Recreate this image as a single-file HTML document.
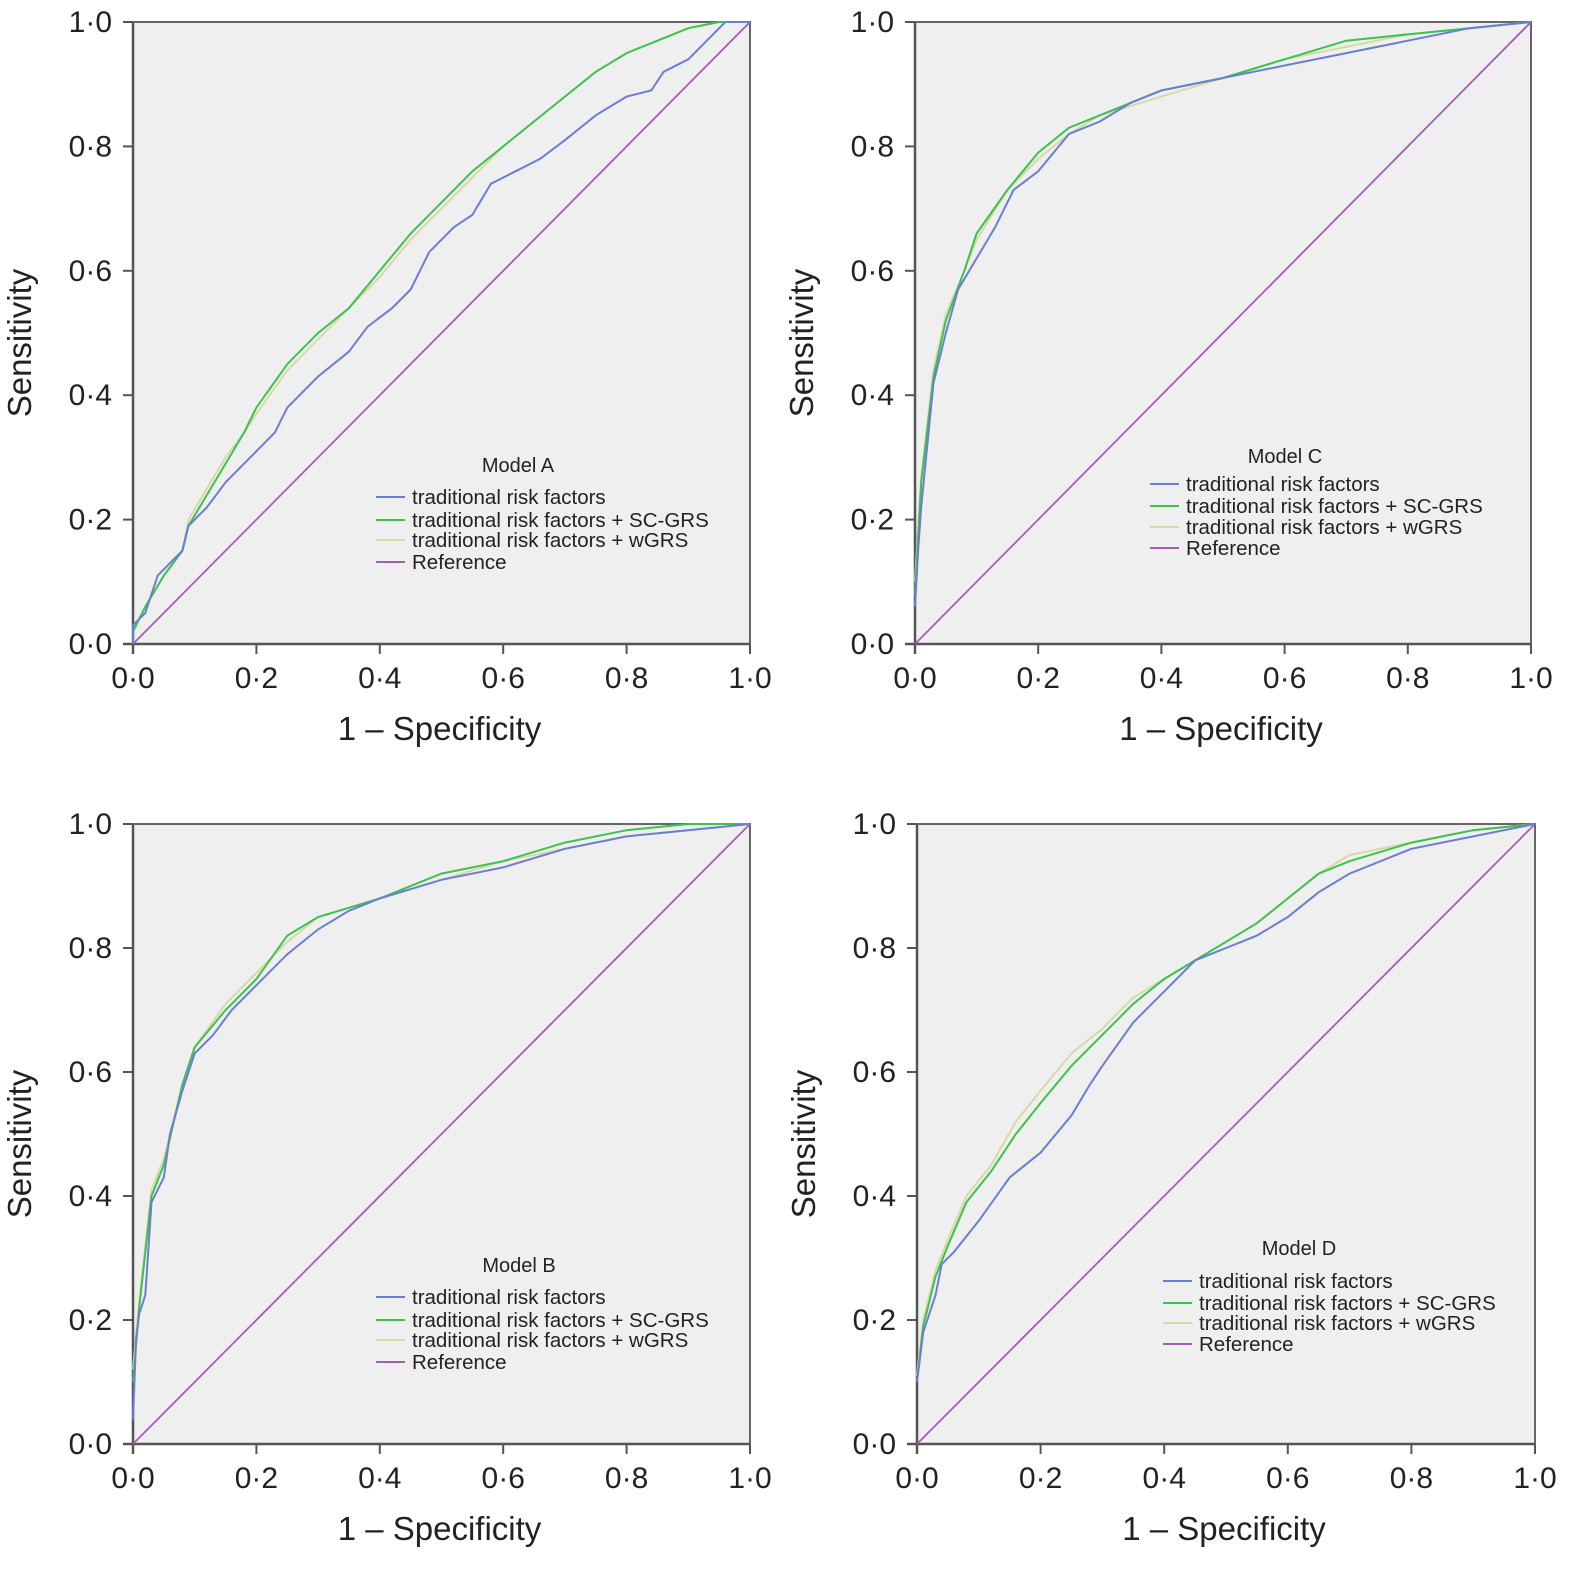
<!DOCTYPE html>
<html><head><meta charset="utf-8"><style>
body{margin:0;background:#fff}
svg{display:block;font-family:"Liberation Sans",Arial,sans-serif}
</style></head><body>
<svg id="c" width="1582" height="1573"></svg>
<script>
const tickLabels=["0·0","0·2","0·4","0·6","0·8","1·0"];
const tickValues=[0,0.2,0.4,0.6,0.8,1];
const seriesNames=["traditional risk factors","traditional risk factors + SC-GRS","traditional risk factors + wGRS","Reference"];
const modelA_base_x=[0,0,0.02,0.04,0.06,0.08,0.09,0.12,0.15,0.2,0.23,0.25,0.3,0.35,0.38,0.42,0.45,0.48,0.52,0.55,0.58,0.62,0.66,0.7,0.75,0.8,0.84,0.86,0.9,0.93,0.96,1];
const modelA_base_y=[0,0.03,0.05,0.11,0.13,0.15,0.19,0.22,0.26,0.31,0.34,0.38,0.43,0.47,0.51,0.54,0.57,0.63,0.67,0.69,0.74,0.76,0.78,0.81,0.85,0.88,0.89,0.92,0.94,0.97,1,1];
const modelA_sc_x=[0,0.02,0.05,0.08,0.09,0.12,0.15,0.18,0.2,0.25,0.3,0.35,0.4,0.45,0.5,0.55,0.6,0.65,0.7,0.75,0.8,0.85,0.9,0.95,1];
const modelA_sc_y=[0.02,0.06,0.11,0.15,0.19,0.24,0.29,0.34,0.38,0.45,0.5,0.54,0.6,0.66,0.71,0.76,0.8,0.84,0.88,0.92,0.95,0.97,0.99,1,1];
const modelA_w_y=[0.02,0.06,0.11,0.15,0.2,0.25,0.3,0.34,0.37,0.44,0.49,0.54,0.59,0.65,0.7,0.75,0.8,0.84,0.88,0.92,0.95,0.97,0.99,1,1];
const modelC_base_x=[0,0.005,0.01,0.02,0.03,0.05,0.07,0.1,0.13,0.16,0.2,0.25,0.3,0.35,0.4,0.5,0.6,0.7,0.8,0.9,1];
const modelC_base_y=[0.06,0.15,0.22,0.32,0.42,0.5,0.57,0.62,0.67,0.73,0.76,0.82,0.84,0.87,0.89,0.91,0.93,0.95,0.97,0.99,1];
const modelC_sc_x=[0,0.01,0.03,0.05,0.08,0.1,0.15,0.2,0.25,0.3,0.4,0.5,0.6,0.7,0.8,0.9,1];
const modelC_sc_y=[0.08,0.26,0.43,0.52,0.6,0.66,0.73,0.79,0.83,0.85,0.89,0.91,0.94,0.97,0.98,0.99,1];
const modelC_w_y=[0.1,0.27,0.44,0.53,0.6,0.65,0.73,0.78,0.82,0.85,0.88,0.91,0.94,0.96,0.98,0.99,1];
const modelB_base_x=[0,0.005,0.01,0.02,0.03,0.05,0.06,0.08,0.1,0.13,0.16,0.2,0.25,0.3,0.35,0.4,0.5,0.6,0.7,0.8,0.9,1];
const modelB_base_y=[0.04,0.17,0.21,0.24,0.39,0.43,0.5,0.57,0.63,0.66,0.7,0.74,0.79,0.83,0.86,0.88,0.91,0.93,0.96,0.98,0.99,1];
const modelB_sc_x=[0,0.01,0.03,0.05,0.08,0.1,0.15,0.2,0.25,0.3,0.4,0.5,0.6,0.7,0.8,0.9,1];
const modelB_sc_y=[0.1,0.22,0.4,0.45,0.58,0.64,0.7,0.75,0.82,0.85,0.88,0.92,0.94,0.97,0.99,1,1];
const modelB_w_y=[0.12,0.23,0.41,0.46,0.58,0.64,0.71,0.76,0.81,0.85,0.88,0.91,0.94,0.96,0.98,0.99,1];
const modelD_base_x=[0,0.01,0.03,0.04,0.06,0.1,0.15,0.2,0.25,0.28,0.3,0.35,0.4,0.45,0.5,0.55,0.6,0.65,0.7,0.8,0.9,1];
const modelD_base_y=[0.1,0.18,0.24,0.29,0.31,0.36,0.43,0.47,0.53,0.58,0.61,0.68,0.73,0.78,0.8,0.82,0.85,0.89,0.92,0.96,0.98,1];
const modelD_sc_x=[0,0.01,0.03,0.05,0.08,0.12,0.16,0.2,0.25,0.3,0.35,0.4,0.45,0.5,0.55,0.6,0.65,0.7,0.8,0.9,1];
const modelD_sc_y=[0.1,0.19,0.27,0.32,0.39,0.44,0.5,0.55,0.61,0.66,0.71,0.75,0.78,0.81,0.84,0.88,0.92,0.94,0.97,0.99,1];
const modelD_w_y=[0.11,0.2,0.28,0.33,0.4,0.45,0.52,0.57,0.63,0.67,0.72,0.75,0.78,0.81,0.84,0.88,0.92,0.95,0.97,0.99,1];

const NS="http://www.w3.org/2000/svg";
const svg=document.getElementById('c');
const colors=["#6a7ed2","#3dc24f","#d9d9a6","#a45fb2"];
const panels=[
 {id:"a",title:"Model A",x0:133,x1:750,y0:644,y1:22,lx:376,tx:518,ty:472,rows:[497,520,540,562],
  series:[[modelA_base_x,modelA_base_y],[modelA_sc_x,modelA_sc_y],[modelA_sc_x,modelA_w_y]]},
 {id:"c",title:"Model C",x0:915,x1:1531,y0:644,y1:22,lx:1150,tx:1285,ty:463,rows:[484,506,527,548],
  series:[[modelC_base_x,modelC_base_y],[modelC_sc_x,modelC_sc_y],[modelC_sc_x,modelC_w_y]]},
 {id:"b",title:"Model B",x0:133,x1:750,y0:1444,y1:824,lx:376,tx:519,ty:1272,rows:[1297,1320,1340,1362],
  series:[[modelB_base_x,modelB_base_y],[modelB_sc_x,modelB_sc_y],[modelB_sc_x,modelB_w_y]]},
 {id:"d",title:"Model D",x0:917,x1:1535,y0:1444,y1:824,lx:1163,tx:1299,ty:1255,rows:[1281,1303,1323,1344],
  series:[[modelD_base_x,modelD_base_y],[modelD_sc_x,modelD_sc_y],[modelD_sc_x,modelD_w_y]]}
];
function mk(tag,attrs,parent){const e=document.createElementNS(NS,tag);for(const k in attrs)e.setAttribute(k,attrs[k]);(parent||svg).appendChild(e);return e;}
panels.forEach(p=>{
 const sx=v=>p.x0+v*(p.x1-p.x0), sy=v=>p.y0+v*(p.y1-p.y0);
 const g=mk('g',{});
 
 
 const bg=mk('rect',{x:p.x0,y:p.y1,width:p.x1-p.x0,height:p.y0-p.y1,fill:"#efefef",stroke:"#666","stroke-width":2},g);
 
 
 tickValues.forEach((v,i)=>{
  mk('line',{x1:p.x0-10,x2:p.x0,y1:sy(v),y2:sy(v),stroke:"#555","stroke-width":2},g);
  mk('line',{x1:sx(v),x2:sx(v),y1:p.y0,y2:p.y0+10,stroke:"#555","stroke-width":2},g);
  const yl=mk('text',{x:p.x0-21,y:sy(v)+10,"text-anchor":"end","font-size":30,fill:"#222"},g);
  yl.textContent=tickLabels[i];
  
  
  const xl=mk('text',{x:sx(v),y:p.y0+44,"text-anchor":"middle","font-size":30,fill:"#222"},g);
  xl.textContent=tickLabels[i];
  
  
 });
 mk('line',{x1:p.x0-10,x2:p.x1,y1:p.y0,y2:p.y0,stroke:"#555","stroke-width":2.5},g);
 mk('line',{x1:p.x0,x2:p.x0,y1:p.y1,y2:p.y0+10,stroke:"#555","stroke-width":2.5},g);
 const xt=mk('text',{x:(p.x0+p.x1)/2-2,y:p.y0+96,"text-anchor":"middle","font-size":33,fill:"#222"},g);
 xt.textContent="1 – Specificity";
 
 
 const cy=(p.y0+p.y1)/2+10;
 const yt=mk('text',{x:0,y:0,transform:`translate(${p.x0-102},${cy}) rotate(-90)`,"text-anchor":"middle","font-size":33,fill:"#222"},g);
 yt.textContent="Sensitivity";
 
 
 const ref=mk('line',{x1:sx(0),y1:sy(0),x2:sx(1),y2:sy(1),stroke:colors[3],"stroke-width":1.8},g);
 
 
 [2,1,0].forEach(si=>{
  const xs=p.series[si][0], ys=p.series[si][1];
  const pts=xs.map((x,i)=>sx(x).toFixed(1)+","+sy(ys[i]).toFixed(1)).join(" ");
  const pl=mk('polyline',{points:pts,fill:"none",stroke:colors[si],"stroke-width":2},g);
  
  
 });
 const lt=mk('text',{x:p.tx,y:p.ty,"text-anchor":"middle","font-size":20,fill:"#222"},g);
 lt.textContent=p.title;
 
 
 p.rows.forEach((ry,i)=>{
  mk('line',{x1:p.lx,x2:p.lx+29,y1:ry,y2:ry,stroke:colors[i],"stroke-width":2},g);
  const t=mk('text',{x:p.lx+36,y:ry+7,"font-size":20.5,fill:"#222"},g);
  t.textContent=seriesNames[i];
  
  
 });
});
</script>
</body></html>
